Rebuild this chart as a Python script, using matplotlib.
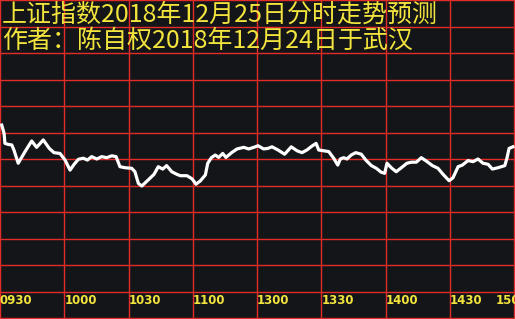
import matplotlib
matplotlib.use("Agg")
import matplotlib.pyplot as plt
import matplotlib.transforms as mtransforms

plt.rcParams['font.family'] = ['Noto Sans CJK SC', 'DejaVu Sans']

# 标题
title1 = "上证指数2018年12月25日分时走势预测"
title2 = "作者：陈自权2018年12月24日于武汉"

# 时间刻度(分钟, 从09:30起算, 午休合并)
tick_minutes = [0, 30, 60, 90, 120, 150, 180, 210, 240]
tick_labels = ["0930", "1000", "1030", "1100", "1300", "1330", "1400", "1430", "1500"]

# 预测走势(横轴: 分钟, 纵轴: 网格单位)
minutes = [0.8, 1.9, 2.3, 3.9, 5.5, 6.5, 8.5, 11.7, 14.8, 17.1, 20.2, 23.0, 25.2,
           28.0, 30.4, 32.7, 34.6, 36.6, 38.9, 40.8, 42.8, 45.2, 47.5, 49.8, 52.2,
           54.2, 56.0, 58.4, 61.5, 63.0, 64.6, 66.2, 69.2, 71.9, 73.9, 76.0, 77.8,
           80.2, 82.6, 84.2, 87.3, 89.7, 91.5, 93.5, 95.9, 97.0, 98.7, 100.5, 102.1,
           104.0, 105.5, 108.3, 110.7, 113.8, 116.1, 118.5, 120.5, 123.1, 125.1,
           127.0, 129.8, 132.9, 136.0, 138.7, 141.0, 143.3, 145.7, 147.6, 148.8,
           151.1, 153.5, 155.8, 157.7, 158.9, 160.5, 162.0, 164.0, 166.1, 168.7,
           170.8, 173.4, 175.7, 178.0, 179.6, 180.7, 182.7, 185.0, 187.4, 190.0,
           192.1, 194.4, 196.7, 199.1, 201.9, 204.5, 206.9, 209.7, 211.5, 213.9,
           215.9, 218.5, 220.9, 223.2, 225.5, 227.9, 229.9, 232.5, 235.7, 236.7,
           237.7, 239.5]
levels = [7.28, 6.97, 6.59, 6.55, 6.53, 6.34, 5.84, 6.28, 6.68, 6.44, 6.72, 6.40, 6.24,
          6.21, 5.96, 5.58, 5.80, 5.99, 6.03, 5.96, 6.09, 6.00, 6.09, 6.05, 6.12,
          6.09, 5.71, 5.67, 5.65, 5.52, 5.08, 4.98, 5.21, 5.42, 5.71, 5.62, 5.75,
          5.52, 5.42, 5.37, 5.37, 5.25, 5.05, 5.17, 5.40, 5.84, 6.05, 6.15, 6.06,
          6.21, 6.06, 6.25, 6.38, 6.44, 6.38, 6.44, 6.50, 6.38, 6.40,
          6.46, 6.34, 6.18, 6.46, 6.31, 6.24, 6.34, 6.49, 6.59, 6.34,
          6.31, 6.28, 6.03, 5.77, 6.00, 6.05, 6.00, 6.15, 6.24, 6.18,
          5.96, 5.75, 5.65, 5.50, 5.46, 5.84, 5.67, 5.52, 5.67, 5.84,
          5.88, 5.88, 6.05, 5.92, 5.75, 5.65, 5.42, 5.18, 5.29, 5.71,
          5.77, 5.94, 5.90, 6.00, 5.84, 5.80, 5.62, 5.67, 5.75, 6.03,
          6.40, 6.46]

bg = '#141519'
red = '#e32b28'
yellow = '#f2e43c'

fig = plt.figure(figsize=(5.15, 3.19), dpi=100, facecolor=bg)
ax = fig.add_axes([0, 0, 1, 1])
ax.set_facecolor(bg)
ax.set_xlim(0, 240 * 515 / 514)
ax.set_ylim(-1 / 26.5, 12)

# 网格
for m in tick_minutes:
    ax.axvline(m, color=red, lw=1.0, zorder=1)
for r in range(13):
    ax.axhline(r, color=red, lw=1.0, zorder=1)

ax.plot(minutes, levels, color='white', lw=2.3, zorder=3)

# 时间标签
for i, (m, lab) in enumerate(zip(tick_minutes, tick_labels)):
    dx = -18 / 100 if i == len(tick_labels) - 1 else 0
    tr = ax.get_xaxis_transform() + mtransforms.ScaledTranslation(dx, 0, fig.dpi_scale_trans)
    ax.text(m, 18 / 319, lab, transform=tr, ha='left', va='center', color=yellow,
            fontsize=8.5, fontweight='bold', family='DejaVu Sans', zorder=4)

ax.set_xticks([])
ax.set_yticks([])
for s in ax.spines.values():
    s.set_visible(False)

fig.text(2 / 515, 1 - 15 / 319, title1, color=yellow, fontsize=18, ha='left', va='center')
fig.text(2 / 515, 1 - 41 / 319, title2, color=yellow, fontsize=18, ha='left', va='center')

fig.savefig('out.png', dpi=100, facecolor=bg)
